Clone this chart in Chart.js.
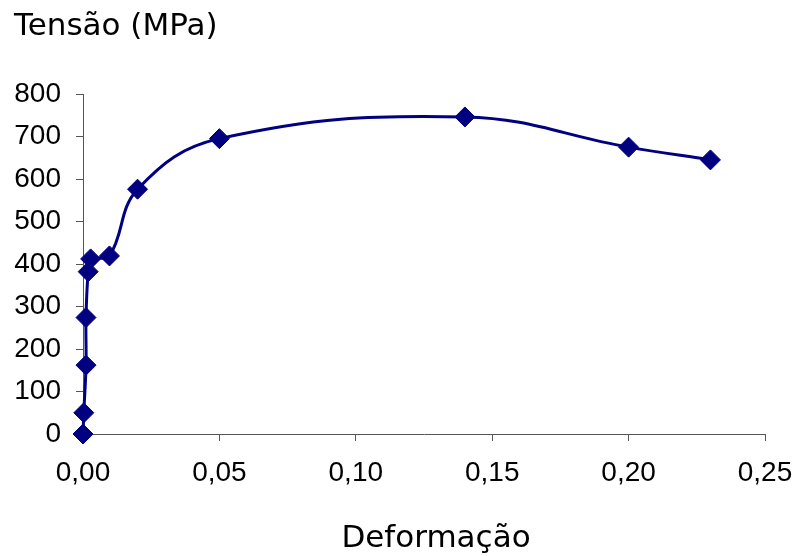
<!DOCTYPE html>
<html>
<head>
<meta charset="utf-8">
<script src="https://cdn.jsdelivr.net/npm/chart.js@4"></script>
<style>
    html, body { margin: 0; padding: 0; background: #fff; }
    #wrap { width: 803px; height: 556px; }
</style>
</head>
<body>
<div id="wrap"><canvas id="stressChart" width="803" height="556"></canvas></div>
<script>
// strain (deformação) and stress (tensão, MPa)
const strain = [0, 0.0003, 0.0011, 0.0011, 0.0019, 0.0028, 0.0097, 0.02, 0.05, 0.14, 0.20, 0.23];
const stress = [0, 50, 162, 274, 382, 412, 419, 576, 695, 746, 675, 645];

const xTicks = [0, 0.05, 0.10, 0.15, 0.20, 0.25];
const yTicks = [0, 100, 200, 300, 400, 500, 600, 700, 800];

const yTitle = "Tensão (MPa)";
const xTitle = "Deformação";

const navy = "#000080";
const axisColor = "#555555";
const tickFont = { family: "Liberation Sans, Arial, sans-serif", size: 28 };
const titleFont = "31px DejaVu Sans, sans-serif";

// the two axis titles sit where the original spreadsheet chart put them
const axisTitles = {
    id: "axisTitles",
    afterDraw(chart) {
        const ctx = chart.ctx;
        ctx.save();
        ctx.fillStyle = "#000";
        ctx.font = titleFont;
        ctx.textBaseline = "alphabetic";
        ctx.textAlign = "left";
        ctx.fillText(yTitle, 14, 35);
        ctx.textAlign = "center";
        ctx.fillText(xTitle, 436, 547);
        ctx.restore();
    }
};

function drawChart() {
    const points = strain.map((x, i) => ({ x: x, y: stress[i] }));

    new Chart(document.getElementById("stressChart").getContext("2d"), {
        type: "scatter",
        data: {
            datasets: [{
                data: points,
                showLine: true,
                borderColor: navy,
                borderWidth: 3,
                tension: 0.4,
                pointStyle: "rectRot",
                pointRadius: 10,
                pointHoverRadius: 10,
                pointBackgroundColor: navy,
                pointBorderColor: navy,
                pointBorderWidth: 1,
                clip: false
            }]
        },
        options: {
            responsive: false,
            animation: false,
            layout: { autoPadding: false, padding: { left: 0, right: 38, top: 94, bottom: 0 } },
            plugins: {
                legend: { display: false },
                tooltip: { enabled: false }
            },
            scales: {
                x: {
                    type: "linear",
                    min: 0,
                    max: 0.25,
                    afterBuildTicks: (s) => { s.ticks = xTicks.map(v => ({ value: v })); },
                    afterFit: (s) => { s.height = 122; s.paddingLeft = 0; s.paddingRight = 0; },
                    border: { display: true, color: axisColor, width: 1 },
                    grid: { drawOnChartArea: false, drawTicks: true, tickLength: 7, color: axisColor },
                    ticks: {
                        color: "#000",
                        font: tickFont,
                        padding: 15,
                        maxRotation: 0,
                        callback: (v) => v.toFixed(2).replace(".", ",")
                    }
                },
                y: {
                    type: "linear",
                    min: 0,
                    max: 800,
                    afterBuildTicks: (s) => { s.ticks = yTicks.map(v => ({ value: v })); },
                    afterFit: (s) => { s.width = 83; s.paddingTop = 0; s.paddingBottom = 0; },
                    border: { display: true, color: axisColor, width: 1 },
                    grid: { drawOnChartArea: false, drawTicks: true, tickLength: 7, color: axisColor },
                    ticks: {
                        color: "#000",
                        font: tickFont,
                        padding: 15,
                        callback: (v) => String(v)
                    }
                }
            }
        },
        plugins: [axisTitles]
    });
}

// make sure the tick font is ready before the canvas is painted
Promise.all([
    document.fonts.load("28px 'Liberation Sans'"),
    document.fonts.load("31px 'DejaVu Sans'")
]).then(drawChart, drawChart);
</script>
</body>
</html>
